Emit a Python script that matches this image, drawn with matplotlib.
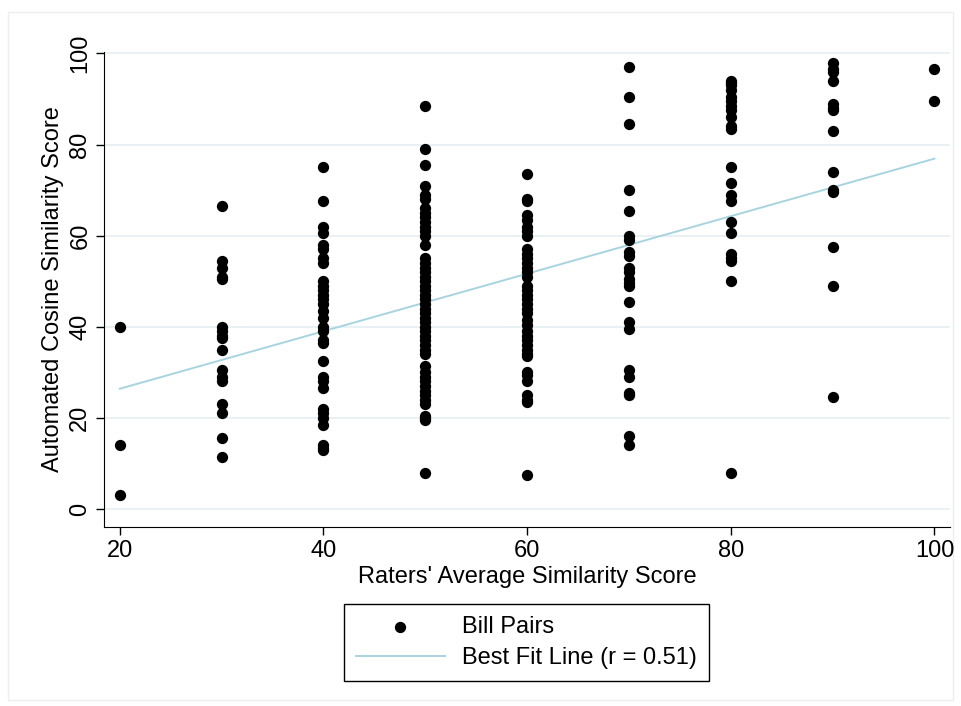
import numpy as np
import matplotlib
matplotlib.use('Agg')
import matplotlib.pyplot as plt
from matplotlib.patches import Rectangle

plt.rcParams['font.family'] = ['Liberation Sans', 'DejaVu Sans']

# automated cosine similarity scores, grouped by raters' average score
scores = {
    20: [40, 14, 3],
    30: [66.5, 54.5, 53, 51, 50.5, 40, 39, 38, 37.5, 35, 30.5, 29, 28, 23, 21, 15.5, 11.5],
    40: [75, 67.5, 62, 60.5, 58, 57, 55, 54, 50, 49, 48, 47, 46, 45, 43.5, 42, 40, 39,
         37, 36.5, 32.5, 29, 28, 26.5, 22, 21, 20, 18.5, 14, 13.5, 13],
    50: [88.5, 79, 75.5, 71, 69, 68, 66, 65, 64, 63, 62, 61, 60, 58, 55, 54, 53, 52, 51,
         50, 49, 48, 47, 46, 45, 44, 43, 42, 41, 40, 39, 38, 37, 36, 35, 34, 31.5, 30,
         29, 28, 27, 26, 25, 24, 23, 20.5, 20, 19.5, 8],
    60: [73.5, 68, 67.5, 64.5, 63.5, 62, 61, 60, 57, 56, 55, 54, 53, 52, 51, 49, 48, 47,
         46, 45, 44, 43, 41.5, 40.5, 39, 38, 37, 36, 35, 34, 33.5, 30, 29.5, 28, 25, 24,
         23.5, 7.5],
    70: [97, 90.5, 84.5, 70, 65.5, 60, 59, 56.5, 55.5, 53, 52, 50.5, 49.5, 49, 45.5, 41,
         39.5, 30.5, 29, 25.5, 25, 16, 14],
    80: [94, 93.5, 93, 92, 90.5, 89.5, 88.5, 87.5, 86, 84, 83.5, 75, 71.5, 69, 67.5, 63,
         60.5, 56, 55, 54.5, 50, 8],
    90: [98, 96.5, 96, 94, 89, 88, 87.5, 83, 74, 70, 69.5, 57.5, 49, 24.5],
    100: [96.5, 89.5],
}
fit_x = [20, 100]
fit_y = [26.4, 76.9]

xs = [k for k, v in scores.items() for _ in v]
ys = [y for v in scores.values() for y in v]

fig = plt.figure(figsize=(9.61, 7.06), dpi=100)
ax = fig.add_axes([0.108, 0.2535, 0.881, 0.6728])
ax.set_zorder(2)
frame = Rectangle((0.008, 0.008), 0.984, 0.975, transform=fig.transFigure,
                  fill=False, edgecolor='#eeeeee', linewidth=1, zorder=0)
fig.patches.append(frame)

ax.scatter(xs, ys, s=66, color='black', zorder=3, label='Bill Pairs', linewidths=0)
ax.plot(fit_x, fit_y, color='#a8d4e0', linewidth=1.4, zorder=2,
        label='Best Fit Line (r = 0.51)')

ax.set_xlim(18.43, 101.57)
ax.set_ylim(-3.95, 100.3)
ax.set_xticks([20, 40, 60, 80, 100])
ax.set_yticks([0, 20, 40, 60, 80, 100])
ax.grid(axis='y', color='#e6f0f2', linewidth=1.3, zorder=0)
ax.set_axisbelow(True)
ax.patch.set_alpha(0)
for s in ['top', 'right']:
    ax.spines[s].set_visible(False)
ax.tick_params(labelsize=17, length=6, width=1, pad=3)
plt.setp(ax.get_yticklabels(), rotation=90, va='center')
ax.set_xlabel("Raters' Average Similarity Score", fontsize=17, labelpad=3)
ax.set_ylabel('Automated Cosine Similarity Score', fontsize=17, labelpad=4)

leg = fig.legend(loc='center', bbox_to_anchor=(0.5475, 0.09), fontsize=17,
                 fancybox=False, edgecolor='black', framealpha=1, handlelength=3.8,
                 handletextpad=0.7, borderpad=0.5, labelspacing=0.4, borderaxespad=0)
leg.get_frame().set_linewidth(1)

fig.savefig('out.png', dpi=100)
